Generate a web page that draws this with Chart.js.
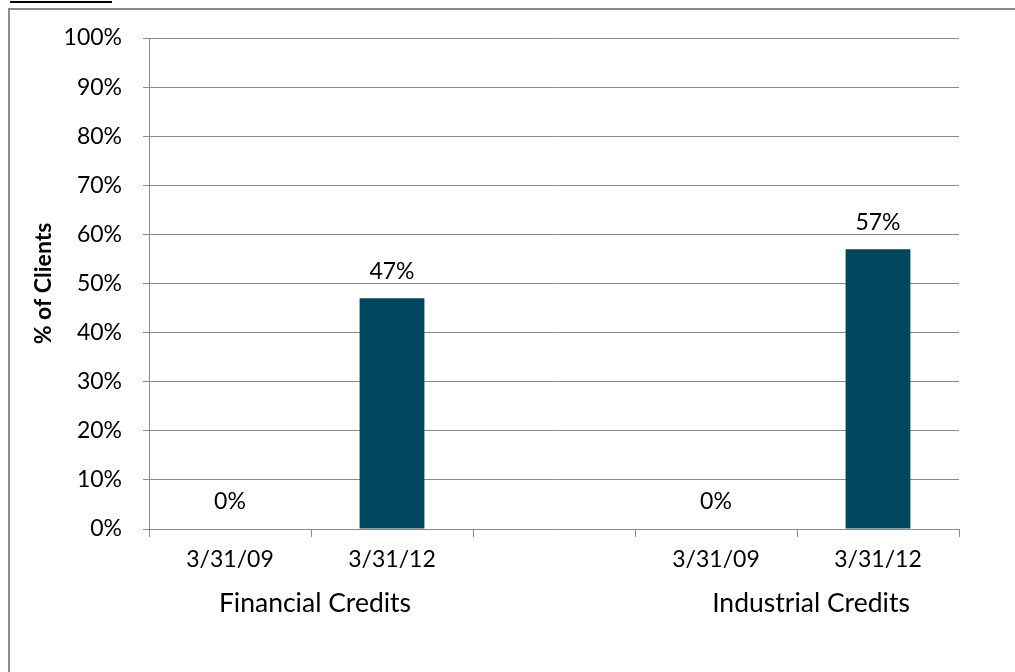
<!DOCTYPE html>
<html>
<head>
<meta charset="utf-8">
<script src="https://cdn.jsdelivr.net/npm/chart.js@4/dist/chart.umd.min.js"></script>
<style>
  html, body { margin: 0; padding: 0; background: #fff; }
  #wrap { width: 1015px; height: 672px; }
</style>
</head>
<body>
<div id="wrap"><canvas id="c" width="1015" height="672"></canvas></div>
<script>
// ---- data ----
const categories = ['3/31/09', '3/31/12', '', '3/31/09', '3/31/12'];
const groupLabels = ['Financial Credits', 'Industrial Credits'];
const groupSpans = [[0, 1], [3, 4]];
const values = [0, 47, null, 0, 57];
const yTickStep = 10;
const yMax = 100;
const yTitle = '% of Clients';

const FONT = 'Lato, "Open Sans", sans-serif';
const GRAY = '#8a8a8a';

const framePlugin = {
  id: 'frame',
  beforeDraw(chart) {
    const ctx = chart.ctx;
    ctx.save();
    ctx.fillStyle = '#fff';
    ctx.fillRect(0, 0, chart.width, chart.height);
    ctx.strokeStyle = GRAY;
    ctx.lineWidth = 2;
    ctx.strokeRect(9, 9, 2000, 2000);
    ctx.fillStyle = '#000';
    ctx.fillRect(10, 1, 102, 2);
    ctx.restore();
  }
};

const labelPlugin = {
  id: 'vlabels',
  afterDatasetsDraw(chart) {
    const ctx = chart.ctx;
    const meta = chart.getDatasetMeta(0);
    ctx.save();
    ctx.font = '23px ' + FONT;
    ctx.fillStyle = '#000';
    ctx.textAlign = 'center';
    ctx.textBaseline = 'middle';
    meta.data.forEach((el, i) => {
      const v = values[i];
      if (v === null || v === undefined) return;
      ctx.fillText(v + '%', el.x, el.y - 27);
    });
    // group labels
    ctx.font = '26.5px ' + FONT;
    const xs = chart.scales.x;
    const nudge = [4, 14];
    groupLabels.forEach((g, k) => {
      const [a, b] = groupSpans[k];
      const cx = (xs.getPixelForValue(a) + xs.getPixelForValue(b)) / 2 + nudge[k];
      ctx.fillText(g, cx, 603);
    });
    ctx.restore();
  }
};

new Chart(document.getElementById('c'), {
  type: 'bar',
  data: {
    labels: categories,
    datasets: [{
      data: values,
      backgroundColor: '#00465e',
      barPercentage: 1.0,
      categoryPercentage: 0.4
    }]
  },
  options: {
    responsive: false,
    animation: false,
    devicePixelRatio: 1,
    layout: { padding: { left: 0, right: 56, top: 38, bottom: 0 } },
    plugins: { legend: { display: false }, tooltip: { enabled: false } },
    scales: {
      x: {
        afterFit(s) { s.height = 143; },
        grid: { display: true, drawOnChartArea: false, offset: true, tickLength: 8, color: GRAY, lineWidth: 1 },
        border: { display: true, color: GRAY, width: 1 },
        ticks: { color: '#000', font: { family: FONT, size: 23 }, padding: 9, maxRotation: 0, autoSkip: false }
      },
      y: {
        min: 0, max: yMax,
        afterFit(s) { s.width = 149; },
        grid: { color: GRAY, lineWidth: 1, tickLength: 6 },
        border: { display: true, color: GRAY, width: 1 },
        ticks: { stepSize: yTickStep, color: '#000', font: { family: FONT, size: 23 }, padding: 21,
                 callback: v => v + '%' },
        title: { display: true, text: yTitle, color: '#000',
                 font: { family: FONT, size: 23, weight: 'bold' }, padding: { top: 30, bottom: 0 } }
      }
    }
  },
  plugins: [framePlugin, labelPlugin]
});
</script>
</body>
</html>
